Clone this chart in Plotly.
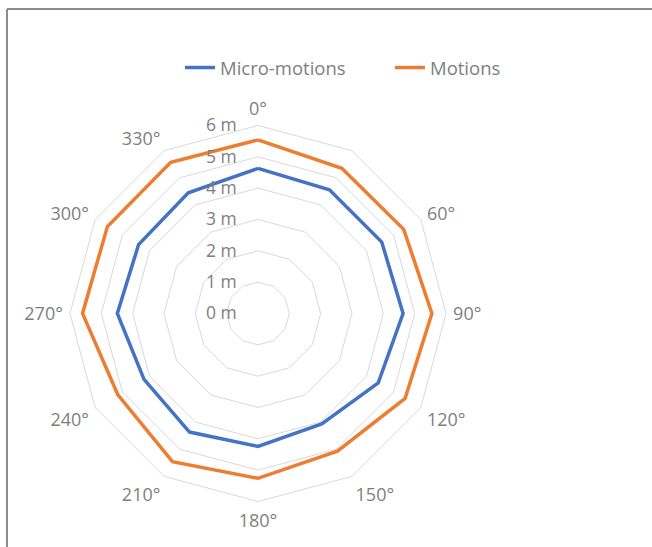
import plotly.graph_objects as go

categories = ["0°", "30°", "60°", "90°", "120°", "150°", "180°",
              "210°", "240°", "270°", "300°", "330°"]
micro_motions = [4.63, 4.56, 4.56, 4.63, 4.43, 4.07, 4.24, 4.37, 4.20, 4.49, 4.40, 4.45]
motions = [5.54, 5.35, 5.37, 5.55, 5.42, 5.07, 5.26, 5.46, 5.17, 5.60, 5.55, 5.57]
angular_text = ["0°", "", "60°", "90°", "120°", "150°", "180°",
                "210°", "240°", "270°", "300°", "330°"]
radial_ticks = [0, 1, 2, 3, 4, 5, 6]
radial_text = ["0 m", "1 m", "2 m", "3 m", "4 m", "5 m", "6 m"]

W, H = 652, 547
cx, cy, R = 258, 313.5, 188
PAD = "\u00a0" * 4

fig = go.Figure()
fig.add_trace(go.Scatterpolar(
    r=micro_motions + micro_motions[:1], theta=categories + categories[:1],
    mode="lines", name="Micro-motions",
    line=dict(color="#4472C4", width=3.5)))
fig.add_trace(go.Scatterpolar(
    r=motions + motions[:1], theta=categories + categories[:1],
    mode="lines", name="Motions",
    line=dict(color="#ED7D31", width=3.5)))

fig.update_layout(
    width=W, height=H,
    margin=dict(l=0, r=0, t=0, b=0),
    paper_bgcolor="white", plot_bgcolor="white",
    font=dict(family="Open Sans", color="#7f7f7f", size=15),
    showlegend=True,
    legend=dict(orientation="h", x=180 / W, xanchor="left", y=1 - 68 / H,
                yanchor="middle", font=dict(size=18.5, color="#7f7f7f"),
                entrywidth=165, entrywidthmode="pixels", tracegroupgap=0),
    polar=dict(
        domain=dict(x=[(cx - R) / W, (cx + R) / W],
                    y=[(H - cy - R) / H, (H - cy + R) / H]),
        bgcolor="white",
        gridshape="linear",
        angularaxis=dict(
            type="category", categoryorder="array", categoryarray=categories,
            rotation=90, direction="clockwise",
            tickmode="array", tickvals=categories, ticktext=angular_text,
            showgrid=False, showline=True, linecolor="#d9d9d9", linewidth=1,
            ticks="outside", ticklen=3, tickcolor="rgba(0,0,0,0)",
            tickfont=dict(size=18, color="#7f7f7f")),
        radialaxis=dict(
            range=[0, 6], tickmode="array", tickvals=radial_ticks,
            ticktext=[t + PAD for t in radial_text],
            angle=90, tickangle=90, side="counterclockwise",
            showline=False, ticks="",
            gridcolor="#d9d9d9", gridwidth=1,
            tickfont=dict(size=17.5, color="#7f7f7f")),
    ),
    shapes=[
        dict(type="line", xref="paper", yref="paper", x0=7 / W, x1=1,
             y0=1 - 9 / H, y1=1 - 9 / H, line=dict(color="#8c8c8c", width=2)),
        dict(type="line", xref="paper", yref="paper", x0=7 / W, x1=7 / W,
             y0=0, y1=1 - 9 / H, line=dict(color="#8c8c8c", width=2)),
    ],
)

fig.write_html("out.html", config={"displayModeBar": False},
               post_script="document.body.style.margin='0px';")
